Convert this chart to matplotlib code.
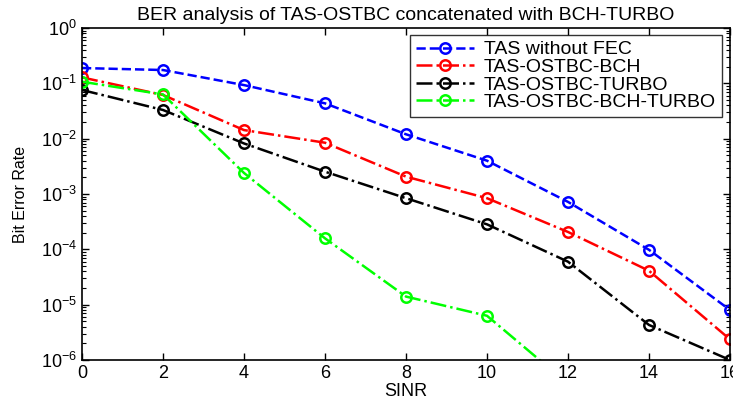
import matplotlib
matplotlib.use("Agg")
import matplotlib.pyplot as plt
from matplotlib.ticker import LogLocator, FixedLocator, NullFormatter

plt.rcParams['font.family'] = ['Liberation Sans', 'DejaVu Sans']
plt.rcParams['mathtext.fontset'] = 'custom'
plt.rcParams['mathtext.rm'] = 'Liberation Sans'

sinr = [0, 2, 4, 6, 8, 10, 12, 14, 16]
ber_tas = [0.189, 0.174, 0.093, 0.0435, 0.012, 0.0040, 7.2e-4, 9.8e-5, 8.0e-6]
ber_bch = [0.128, 0.0616, 0.0143, 0.00845, 0.00206, 8.4e-4, 2.06e-4, 4.1e-5, 2.36e-6]
ber_turbo = [0.0758, 0.033, 0.0082, 0.00253, 8.4e-4, 2.83e-4, 5.98e-5, 4.3e-6, 1.0e-6]
sinr_bt = [0, 2, 4, 6, 8, 10, 12]
ber_bch_turbo = [0.107, 0.063, 0.0024, 1.58e-4, 1.4e-5, 6.3e-6, 3.7e-7]

labels = ['TAS without FEC', 'TAS-OSTBC-BCH', 'TAS-OSTBC-TURBO', 'TAS-OSTBC-BCH-TURBO']
title = 'BER analysis of TAS-OSTBC concatenated with BCH-TURBO'
xticks = [0, 2, 4, 6, 8, 10, 12, 14, 16]

fig = plt.figure(figsize=(7.33, 3.99), dpi=100)
ax = fig.add_axes([82/733, 1-360/399, (730-82)/733, (360-28)/399])

mk = dict(marker='o', markersize=7.5, markerfacecolor='none', markeredgewidth=1.8, linewidth=1.8)
ax.semilogy(sinr, ber_tas, '--', color='#0000ff', label=labels[0], **mk)
ax.semilogy(sinr, ber_bch, '-.', color='#ff0000', label=labels[1], **mk)
ax.semilogy(sinr, ber_turbo, '-.', color='#000000', label=labels[2], **mk)
ax.semilogy(sinr_bt, ber_bch_turbo, '-.', color='#00ff00', label=labels[3], **mk)

ax.set_xlim(0, 16)
ax.set_ylim(1e-6, 1e0)
ax.xaxis.set_major_locator(FixedLocator(xticks))
ax.yaxis.set_major_locator(LogLocator(base=10, numticks=10))
ax.yaxis.set_minor_locator(LogLocator(base=10, subs=range(2, 10), numticks=20))
ax.yaxis.set_minor_formatter(NullFormatter())
ax.tick_params(which='both', direction='in', top=True, right=True, labelsize=13)
ax.tick_params(which='major', length=5, width=1)
ax.tick_params(which='minor', length=3, width=0.8)
for s in ax.spines.values():
    s.set_linewidth(1.2)

ax.set_title(title, fontsize=14, pad=6)
ax.set_xlabel('SINR', fontsize=13, labelpad=1)
ax.set_ylabel('Bit Error Rate', fontsize=11.5, labelpad=9)

leg = ax.legend(loc='upper right', bbox_to_anchor=(722/733, 1-35/399), bbox_transform=fig.transFigure,
                fontsize=14, frameon=True, fancybox=False, edgecolor='black',
                borderpad=0.3, labelspacing=0.0, handlelength=3.0, handletextpad=0.5, borderaxespad=0)
leg.get_frame().set_linewidth(1.0)

fig.savefig('out.png', dpi=100)
